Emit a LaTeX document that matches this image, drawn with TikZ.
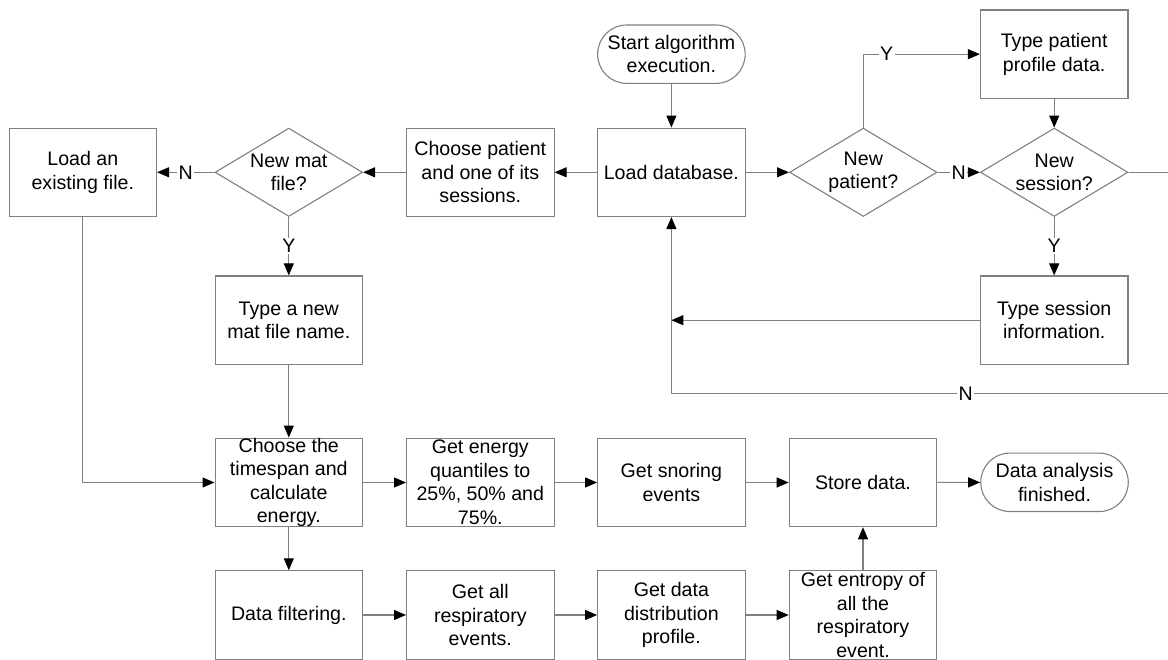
\documentclass[tikz,border=0pt]{standalone}
\usepackage{fontspec}
\setmainfont{Liberation Sans}
\usetikzlibrary{arrows.meta,shapes.geometric}
\definecolor{edgegray}{RGB}{128,128,128}
\begin{document}
\begin{tikzpicture}[x=1pt,y=-1pt,
  every node/.style={font=\fontsize{19.6}{23.5}\selectfont, text=black},
  box/.style={draw=edgegray, line width=1.1pt, minimum width=147.5pt, minimum height=88.4pt, inner sep=0pt, align=center},
  pill/.style={draw=edgegray, line width=1.1pt, rounded corners=29pt, minimum width=147.5pt, minimum height=58.4pt, inner sep=0pt, align=center},
  dec/.style={diamond, draw=edgegray, line width=1.1pt, minimum width=147.5pt, minimum height=88.4pt, inner sep=0pt},
  dectext/.style={align=center, inner sep=0pt},
  arr/.style={draw=edgegray, line width=1.1pt, -{Triangle[length=12pt,width=10pt,color=black]}},
  lbl/.style={fill=white, inner sep=1.5pt},
]
\useasboundingbox (0,0) rectangle (1168,660);
\clip (0,0) rectangle (1168,660);

% top
\node[pill] (st) at (671.4,54.2) {Start algorithm\\execution.};
\node[box] (tp) at (1054.2,54.2) {Type patient\\profile data.};

% row 1
\node[box] (le) at (82.8,172.3) {Load an\\existing file.};
\node[dec] (nm) at (288.8,172.3) {};
\node[dectext] (nmt) at (nm.center) {New mat\\file?};
\node[box] (cp) at (480.3,172.3) {Choose patient\\and one of its\\sessions.};
\node[box] (ld) at (671.4,172.3) {Load database.};
\node[dec] (np) at (863.3,172.3) {};
\node[dectext] (npt) at (np.center) {New\\patient?};
\node[dec] (ns) at (1054.2,172.3) {};
\node[dectext] (nst) at (ns.center) {New\\session?};

% row 2
\node[box] (tn) at (288.8,320.2) {Type a new\\mat file name.};
\node[box] (ts) at (1054.2,320.2) {Type session\\information.};

% row 3
\node[box] (ct) at (288.8,482.5) {Choose the\\timespan and\\calculate\\energy.};
\node[box] (ge) at (480.3,482.5) {Get energy\\quantiles to\\25\%, 50\% and\\75\%.};
\node[box] (gs) at (671.4,482.5) {Get snoring\\events};
\node[box] (sd) at (863,482.5) {Store data.};
\node[pill] (fin) at (1054.5,482.3) {Data analysis\\finished.};

% row 4
\node[box] (df) at (288.8,615) {Data filtering.};
\node[box] (gr) at (480.3,615) {Get all\\respiratory\\events.};
\node[box] (gd) at (671.4,615) {Get data\\distribution\\profile.};
\node[box] (gn) at (863,615) {Get entropy of\\all the\\respiratory\\event.};

% connectors
\draw[arr] (st) -- (ld);
\draw[arr] (ld) -- (cp);
\draw[arr] (cp) -- (nm.east);
\draw[arr] (nm.west) -- node[lbl]{N} (le);
\draw[arr] (nm.south) -- node[lbl]{Y} (tn);
\draw[arr] (tn) -- (ct);
\draw[arr] (le.south) |- (ct.west);
\draw[arr] (ct) -- (ge);
\draw[arr] (ge) -- (gs);
\draw[arr] (gs) -- (sd);
\draw[arr] (sd) -- (fin);
\draw[arr] (ct) -- (df);
\draw[arr] (df) -- (gr);
\draw[arr] (gr) -- (gd);
\draw[arr] (gd) -- (gn);
\draw[arr] (gn) -- (sd);
\draw[arr] (ld) -- (np.west);
\draw[arr] (np.north) |- node[lbl, pos=0.6]{Y} (tp.west);
\draw[arr] (np.east) -- node[lbl]{N} (ns.west);
\draw[arr] (tp) -- (ns.north);
\draw[arr] (ns.south) -- node[lbl]{Y} (ts);
\coordinate (jn) at (ld.south |- ts.west);
\draw[arr] (ts.west) -- (jn);
\coordinate (ro) at (1190,172.3);
\coordinate (rb) at (1190,393.3);
\coordinate (lb) at (671.4,393.3);
\draw[arr] (ns.east) -- (ro) -- (rb) -- node[lbl, pos=0.4326]{N} (lb) -- (ld.south);
\end{tikzpicture}
\end{document}
